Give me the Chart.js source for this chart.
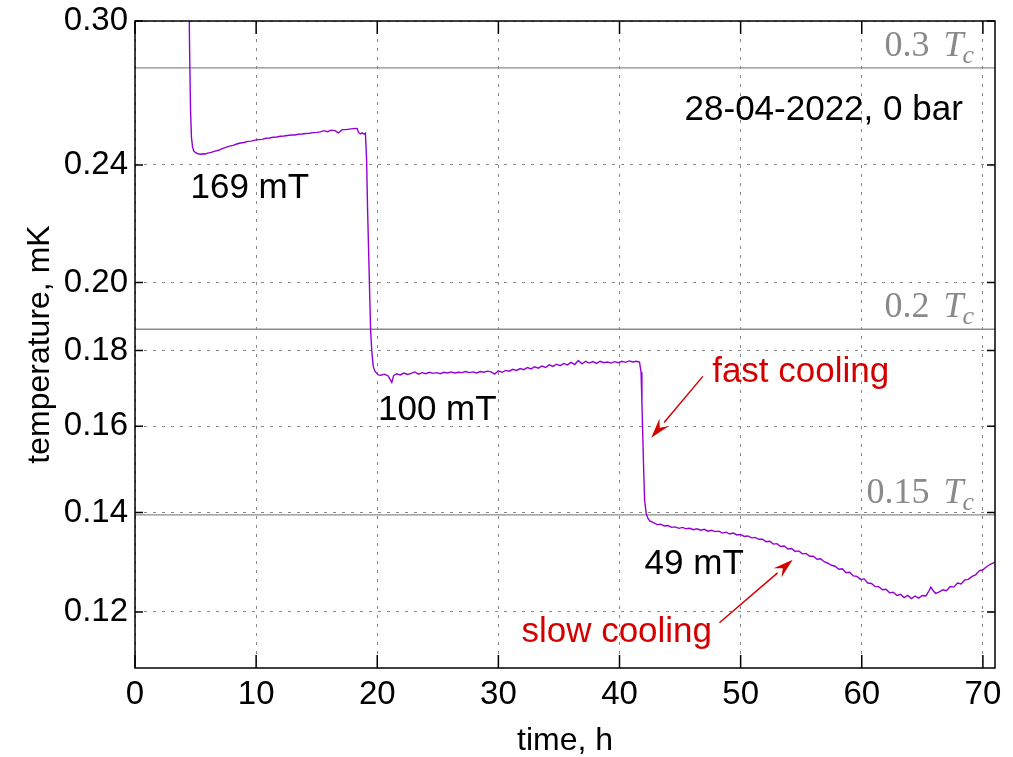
<!DOCTYPE html>
<html>
<head>
<meta charset="utf-8">
<script src="https://cdn.jsdelivr.net/npm/chart.js@4.4.0/dist/chart.umd.min.js"></script>
<style>
  html, body { margin: 0; padding: 0; background: #fff; }
</style>
</head>
<body>
<canvas id="myChart" width="1013" height="757"></canvas>
<script>
// time, h
const hours = [
  4.42, 4.5, 4.58, 4.66, 4.75, 4.85, 5.0, 5.2, 5.4, 5.6, 5.8, 6.0, 6.3, 6.6, 6.9, 7.2, 7.5, 7.8, 8.1, 8.4,
  8.7, 9.0, 9.3, 9.6, 9.9, 10.2, 10.5, 10.8, 11.1, 11.4, 11.7, 12.0, 12.3, 12.6, 12.9, 13.2, 13.5, 13.8, 14.1, 14.4,
  14.7, 15.0, 15.3, 15.6, 15.9, 16.2, 16.5, 16.8, 17.1, 17.4, 17.7, 18.0, 18.2, 18.35, 18.45, 18.6, 18.75, 18.9, 19.02,
  19.12, 19.2, 19.3, 19.4, 19.45, 19.55, 19.67, 19.8, 20.08,
  20.3, 20.6, 20.9, 21.2, 21.35, 21.6, 21.9, 22.2, 22.5, 22.8, 23.1, 23.4, 23.7, 24.0, 24.3, 24.6, 24.9, 25.2, 25.5, 25.8,
  26.1, 26.4, 26.7, 27.0, 27.3, 27.6, 27.9, 28.2, 28.5, 28.8, 29.1, 29.4, 29.7, 30.0, 30.3, 30.6, 30.9, 31.2, 31.5, 31.8,
  32.1, 32.4, 32.7, 33.0, 33.3, 33.6, 33.9, 34.2, 34.5, 34.8, 35.1, 35.4, 35.7, 36.0, 36.3, 36.6, 36.9, 37.2, 37.5, 37.8,
  38.1, 38.4, 38.7, 39.0, 39.3, 39.6, 39.9, 40.2, 40.5, 40.8, 41.1, 41.4, 41.65,
  41.78, 41.85, 41.93, 42.0, 42.07, 42.2, 42.35, 42.5,
  42.8, 43.1, 43.4, 43.7, 44.0, 44.3, 44.6, 44.9, 45.2, 45.5, 45.8, 46.1, 46.4, 46.7, 47.0, 47.3, 47.6, 47.9, 48.2, 48.5,
  48.8, 49.1, 49.4, 49.7, 50.0, 50.3, 50.6, 50.9, 51.2, 51.5, 51.8, 52.1, 52.4, 52.7, 53.0, 53.3, 53.6, 53.9, 54.2, 54.5,
  54.8, 55.1, 55.4, 55.7, 56.0, 56.3, 56.6, 56.9, 57.2, 57.5, 57.8, 58.1, 58.4, 58.7, 59.0, 59.3, 59.6, 59.9, 60.2, 60.5,
  60.8, 61.1, 61.4, 61.7, 62.0, 62.3, 62.6, 62.9, 63.2, 63.5, 63.8, 64.1, 64.4, 64.7, 65.0, 65.3, 65.55, 65.7, 65.9, 66.1,
  66.4, 66.7, 67.0, 67.3, 67.6, 67.9, 68.2, 68.5, 68.8, 69.1, 69.4, 69.7, 70.0, 70.3, 70.6, 71.0
];
// temperature, mK
const temps = [
  0.34, 0.29, 0.262, 0.2505, 0.2468, 0.2452, 0.2446, 0.2442, 0.2440, 0.2442, 0.2441, 0.2444, 0.2447, 0.2452, 0.2455, 0.2461, 0.2466, 0.2471, 0.2474, 0.2479,
  0.2483, 0.2485, 0.2489, 0.2490, 0.2494, 0.2496, 0.2497, 0.2501, 0.2502, 0.2505, 0.2506, 0.2509, 0.2510, 0.2512, 0.2514, 0.2514, 0.2517, 0.2518, 0.2520, 0.2521,
  0.2523, 0.2524, 0.2526, 0.2531, 0.2527, 0.2533, 0.2531, 0.2522, 0.2535, 0.2535, 0.2537, 0.2539, 0.2540, 0.2539, 0.2524, 0.2518, 0.2522, 0.2517, 0.2521,
  0.2420, 0.2241, 0.2080, 0.1928, 0.1859, 0.1797, 0.1756, 0.1743, 0.1733,
  0.1732, 0.1735, 0.1730, 0.1713, 0.1731, 0.1736, 0.1733, 0.1738, 0.1734, 0.1737, 0.1741, 0.1735, 0.1739, 0.1736, 0.1740, 0.1737, 0.1739, 0.1736, 0.1740, 0.1738,
  0.1741, 0.1738, 0.1740, 0.1739, 0.1742, 0.1739, 0.1741, 0.1738, 0.1742, 0.1740, 0.1743, 0.1741, 0.1735, 0.1744, 0.1740, 0.1745, 0.1743, 0.1748, 0.1745, 0.1750,
  0.1747, 0.1753, 0.1749, 0.1755, 0.1751, 0.1757, 0.1753, 0.1760, 0.1756, 0.1762, 0.1758, 0.1764, 0.1760, 0.1767, 0.1761, 0.1772, 0.1763, 0.1770, 0.1765, 0.1769,
  0.1764, 0.1770, 0.1766, 0.1768, 0.1765, 0.1769, 0.1766, 0.1770, 0.1767, 0.1771, 0.1768, 0.1770, 0.1768,
  0.1740, 0.1660, 0.1567, 0.1490, 0.1428, 0.1398, 0.1387, 0.1382,
  0.1378, 0.1374, 0.1375, 0.1371, 0.1372, 0.1368, 0.1369, 0.1366, 0.1368, 0.1365, 0.1366, 0.1363, 0.1365, 0.1362, 0.1364, 0.1360, 0.1362, 0.1359, 0.1360, 0.1356,
  0.1358, 0.1354, 0.1356, 0.1352, 0.1353, 0.1349, 0.1350, 0.1346, 0.1347, 0.1343, 0.1343, 0.1338, 0.1339, 0.1333, 0.1334, 0.1328, 0.1329, 0.1323, 0.1324, 0.1318,
  0.1319, 0.1313, 0.1314, 0.1308, 0.1308, 0.1302, 0.1303, 0.1297, 0.1294, 0.1290, 0.1288, 0.1282, 0.1283, 0.1275, 0.1276, 0.1269, 0.1268, 0.1262, 0.1263, 0.1255,
  0.1254, 0.1248, 0.1248, 0.1242, 0.1243, 0.1236, 0.1237, 0.1231, 0.1233, 0.1227, 0.1231, 0.1225, 0.1230, 0.1226, 0.1231, 0.1230, 0.1240, 0.1247, 0.1240, 0.1235,
  0.1238, 0.1242, 0.1240, 0.1248, 0.1247, 0.1255, 0.1253, 0.1261, 0.1262, 0.1268, 0.1271, 0.1279, 0.1281, 0.1287, 0.1292, 0.1296
];

const tc = 0.930;                       // mK
const tcFractions = [0.3, 0.2, 0.15];
const tcLabels = ['0.3', '0.2', '0.15'];
const xTicks = [0, 10, 20, 30, 40, 50, 60, 70];
const yTicks = [0.12, 0.14, 0.16, 0.18, 0.20, 0.24, 0.30];

const red = '#d40000';
const grey = '#8a8a8a';

// text notes, placed in data coordinates
const notes = [
  { text: '169 mT', x: 4.58, y: 0.2280, color: '#000' },
  { text: '100 mT', x: 20.06, y: 0.1617, color: '#000' },
  { text: '49 mT', x: 42.07, y: 0.1272, color: '#000' },
  { text: '28-04-2022, 0 bar', x: 45.37, y: 0.2573, color: '#000' },
  { text: 'fast cooling', x: 47.65, y: 0.1713, color: red },
  { text: 'slow cooling', x: 31.9, y: 0.1145, color: red },
];
const arrows = [
  { from: [46.88, 0.1729], to: [42.62, 0.1572] },
  { from: [48.25, 0.1180], to: [54.30, 0.1301] },
];

const series = hours.map((h, i) => ({ x: h, y: temps[i] }));

const tcSets = tcFractions.map(f => ({
  data: [{ x: 0, y: f * tc }, { x: 71, y: f * tc }],
  borderColor: grey,
  borderWidth: 1.3,
  pointRadius: 0,
}));

const decor = {
  id: 'decor',
  afterDraw(chart) {
    const { ctx, chartArea: a, scales: { x, y } } = chart;
    ctx.save();

    // Tc labels
    tcFractions.forEach((f, i) => {
      const py = y.getPixelForValue(f * tc) - 12;
      const right = x.getPixelForValue(69.27);
      ctx.fillStyle = grey;
      ctx.textBaseline = 'alphabetic';
      ctx.font = '36px "Liberation Serif"';
      const s1 = tcLabels[i] + ' ';
      const w1 = ctx.measureText(s1).width;
      ctx.font = 'italic 36px "Liberation Serif"';
      const w2 = ctx.measureText('T').width;
      ctx.font = 'italic 26px "Liberation Serif"';
      const w3 = ctx.measureText('c').width;
      let px = right - (w1 + w2 + w3 + 4);
      ctx.font = '36px "Liberation Serif"';
      ctx.fillText(s1, px, py);
      px += w1 + 5;
      ctx.font = 'italic 36px "Liberation Serif"';
      ctx.fillText('T', px, py);
      px += w2 - 1;
      ctx.font = 'italic 26px "Liberation Serif"';
      ctx.fillText('c', px, py + 7);
    });

    // notes
    ctx.font = '35px "Liberation Sans"';
    notes.forEach(n => {
      ctx.fillStyle = n.color;
      ctx.fillText(n.text, x.getPixelForValue(n.x), y.getPixelForValue(n.y));
    });

    // arrows
    ctx.strokeStyle = red;
    ctx.fillStyle = red;
    ctx.lineWidth = 1.5;
    arrows.forEach(ar => {
      const x1 = x.getPixelForValue(ar.from[0]), y1 = y.getPixelForValue(ar.from[1]);
      const x2 = x.getPixelForValue(ar.to[0]), y2 = y.getPixelForValue(ar.to[1]);
      const ang = Math.atan2(y2 - y1, x2 - x1);
      const len = 20, hw = 6;
      const bx = x2 - len * Math.cos(ang), by = y2 - len * Math.sin(ang);
      ctx.beginPath();
      ctx.moveTo(x1, y1);
      ctx.lineTo(bx, by);
      ctx.stroke();
      ctx.beginPath();
      ctx.moveTo(x2, y2);
      ctx.lineTo(bx + hw * Math.sin(ang), by - hw * Math.cos(ang));
      ctx.lineTo(bx + 0.35 * len * Math.cos(ang), by + 0.35 * len * Math.sin(ang));
      ctx.lineTo(bx - hw * Math.sin(ang), by + hw * Math.cos(ang));
      ctx.closePath();
      ctx.fill();
    });

    // frame and inner tick marks
    ctx.strokeStyle = '#000';
    ctx.lineWidth = 1.5;
    ctx.strokeRect(a.left, a.top, a.right - a.left, a.bottom - a.top);
    ctx.beginPath();
    xTicks.forEach(t => {
      const px = x.getPixelForValue(t);
      ctx.moveTo(px, a.bottom); ctx.lineTo(px, a.bottom - 13);
      ctx.moveTo(px, a.top); ctx.lineTo(px, a.top + 13);
    });
    yTicks.forEach(v => {
      const py = y.getPixelForValue(v);
      ctx.moveTo(a.left, py); ctx.lineTo(a.left + 8, py);
      ctx.moveTo(a.right, py); ctx.lineTo(a.right - 8, py);
    });
    ctx.stroke();
    ctx.restore();
  }
};

Chart.defaults.font.family = '"Liberation Sans", Arial, sans-serif';
Chart.defaults.color = '#000';

new Chart(document.getElementById('myChart'), {
  type: 'line',
  data: {
    datasets: [{
      data: series,
      borderColor: '#9400d3',
      borderWidth: 1.4,
      pointRadius: 0,
      tension: 0,
    }, ...tcSets],
  },
  options: {
    responsive: false,
    animation: false,
    layout: { padding: { top: 21, right: 18, left: 0, bottom: 0 } },
    plugins: { legend: { display: false }, tooltip: { enabled: false } },
    scales: {
      x: {
        type: 'linear',
        min: 0,
        max: 71,
        afterBuildTicks: s => { s.ticks = xTicks.map(v => ({ value: v })); },
        afterFit: s => { s.height = 89; },
        ticks: { font: { size: 33, lineHeight: 1 }, padding: 10, maxRotation: 0 },
        grid: { color: '#888', lineWidth: 1, drawTicks: false },
        border: { display: false, dash: [3, 6] },
        title: {
          display: true,
          text: 'time, h',
          font: { size: 32, lineHeight: 1 },
          padding: { top: 0, bottom: 0 },
        },
      },
      y: {
        type: 'logarithmic',
        min: 0.11,
        max: 0.30,
        afterBuildTicks: s => { s.ticks = yTicks.map(v => ({ value: v })); },
        afterFit: s => { s.width = 135; s.paddingTop = 0; s.paddingBottom = 0; },
        ticks: { font: { size: 33, lineHeight: 0.8 }, padding: 7, callback: v => Number(v).toFixed(2) },
        grid: { color: '#888', lineWidth: 1, drawTicks: false },
        border: { display: false, dash: [3, 6] },
        title: {
          display: true,
          text: 'temperature, mK',
          font: { size: 32, lineHeight: 1 },
          padding: { top: 24, bottom: 0 },
        },
      },
    },
  },
  plugins: [decor],
});
</script>
</body>
</html>
